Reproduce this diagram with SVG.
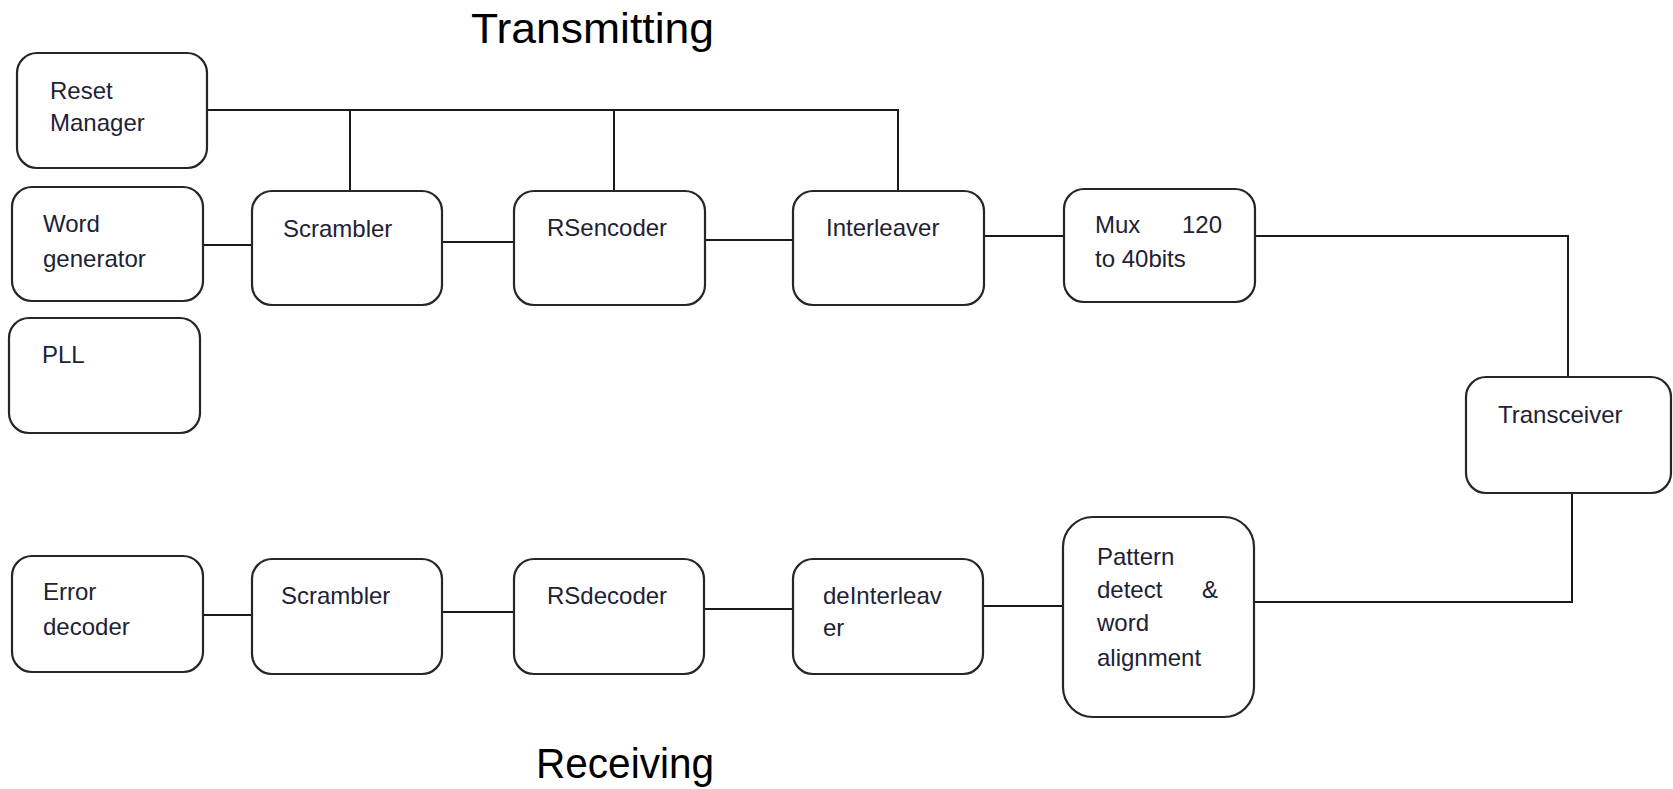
<svg xmlns="http://www.w3.org/2000/svg" width="1673" height="789" viewBox="0 0 1673 789">
<style>
.box{fill:#fff;stroke:#262626;stroke-width:2.2}
.lbl{font-family:"Liberation Sans",Arial,sans-serif;font-size:24px;fill:#1e2233}
.title{font-family:"Liberation Sans",Arial,sans-serif;font-size:42px;fill:#000}
.wire{fill:none;stroke:#1a1a1a;stroke-width:2}
</style>
<rect width="1673" height="789" fill="#fff"/>
<g id="connectors">
<polyline class="wire" points="201,110 898,110 898,191"/>
<line class="wire" x1="350" y1="110" x2="350" y2="191"/>
<line class="wire" x1="614" y1="110" x2="614" y2="191"/>
<line class="wire" x1="203" y1="245" x2="252" y2="245"/>
<line class="wire" x1="442" y1="242" x2="514" y2="242"/>
<line class="wire" x1="705" y1="240" x2="793" y2="240"/>
<line class="wire" x1="983" y1="236" x2="1064" y2="236"/>
<polyline class="wire" points="1255,236 1568,236 1568,377"/>
<polyline class="wire" points="1572,493 1572,602 1254,602"/>
<line class="wire" x1="983" y1="606" x2="1063" y2="606"/>
<line class="wire" x1="704" y1="609" x2="793" y2="609"/>
<line class="wire" x1="442" y1="612" x2="514" y2="612"/>
<line class="wire" x1="203" y1="615" x2="252" y2="615"/>
</g>
<text class="title" x="471" y="43" textLength="243" lengthAdjust="spacingAndGlyphs">Transmitting</text>
<text class="title" x="536" y="778" textLength="178" lengthAdjust="spacingAndGlyphs">Receiving</text>
<g id="reset-manager"><rect class="box" x="17" y="53" width="190" height="115" rx="20"/><text class="lbl" x="50" y="99">Reset</text><text class="lbl" x="50" y="131">Manager</text></g>
<g id="word-generator"><rect class="box" x="12" y="187" width="191" height="114" rx="20"/><text class="lbl" x="43" y="232">Word</text><text class="lbl" x="43" y="267">generator</text></g>
<g id="pll"><rect class="box" x="9" y="318" width="191" height="115" rx="20"/><text class="lbl" x="42" y="363">PLL</text></g>
<g id="scrambler-tx"><rect class="box" x="252" y="191" width="190" height="114" rx="20"/><text class="lbl" x="283" y="237">Scrambler</text></g>
<g id="rsencoder"><rect class="box" x="514" y="191" width="191" height="114" rx="20"/><text class="lbl" x="547" y="236">RSencoder</text></g>
<g id="interleaver"><rect class="box" x="793" y="191" width="191" height="114" rx="20"/><text class="lbl" x="826" y="236">Interleaver</text></g>
<g id="mux"><rect class="box" x="1064" y="189" width="191" height="113" rx="20"/><text class="lbl" x="1095" y="233">Mux</text><text class="lbl" x="1182" y="233">120</text><text class="lbl" x="1095" y="267">to 40bits</text></g>
<g id="transceiver"><rect class="box" x="1466" y="377" width="205" height="116" rx="20"/><text class="lbl" x="1498" y="423">Transceiver</text></g>
<g id="error-decoder"><rect class="box" x="12" y="556" width="191" height="116" rx="20"/><text class="lbl" x="43" y="600">Error</text><text class="lbl" x="43" y="635">decoder</text></g>
<g id="scrambler-rx"><rect class="box" x="252" y="559" width="190" height="115" rx="20"/><text class="lbl" x="281" y="604">Scrambler</text></g>
<g id="rsdecoder"><rect class="box" x="514" y="559" width="190" height="115" rx="20"/><text class="lbl" x="547" y="604">RSdecoder</text></g>
<g id="deinterleaver"><rect class="box" x="793" y="559" width="190" height="115" rx="20"/><text class="lbl" x="823" y="604">deInterleav</text><text class="lbl" x="823" y="636">er</text></g>
<g id="pattern-detect"><rect class="box" x="1063" y="517" width="191" height="200" rx="30"/><text class="lbl" x="1097" y="565">Pattern</text><text class="lbl" x="1097" y="598">detect</text><text class="lbl" x="1202" y="598">&amp;</text><text class="lbl" x="1097" y="631">word</text><text class="lbl" x="1097" y="666">alignment</text></g>
</svg>
